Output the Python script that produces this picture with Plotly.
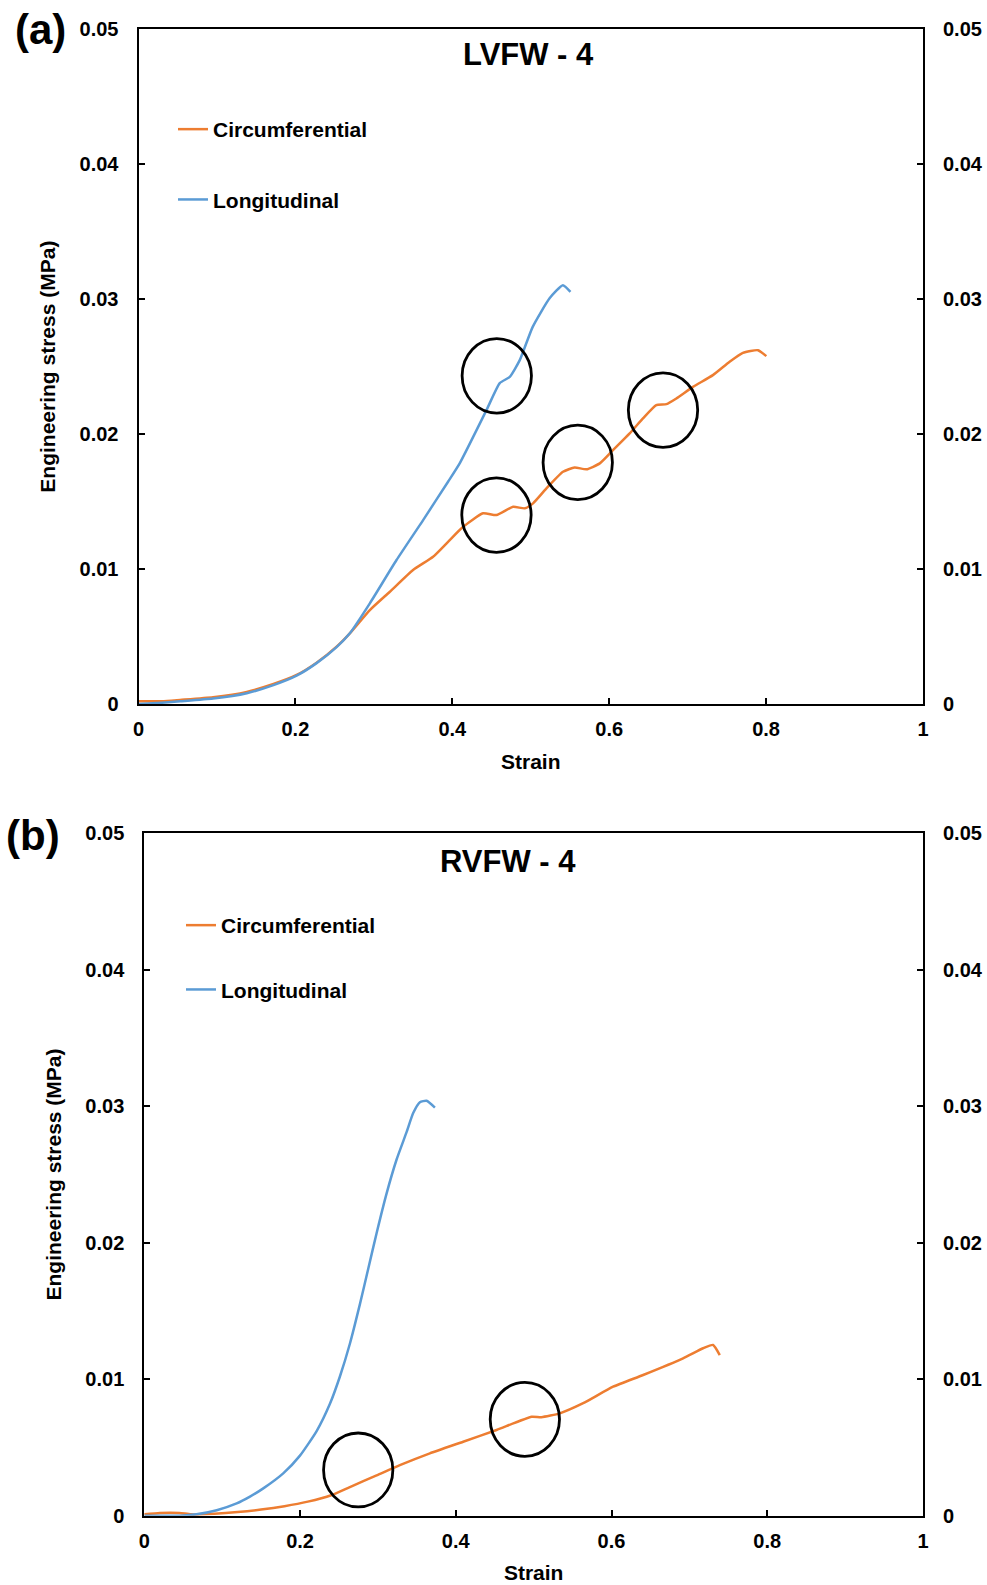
import plotly.graph_objects as go

# ---------------- data ----------------
# Panel (a) LVFW - 4
a_circ_strain = [0, 0.03, 0.053, 0.095, 0.138, 0.172, 0.2015, 0.227, 0.2525, 0.2694, 0.2949, 0.3204, 0.35,
                 0.3755, 0.3946, 0.4138, 0.4392, 0.4563, 0.4775, 0.4924, 0.5029, 0.52, 0.5411, 0.556, 0.571,
                 0.588, 0.6048, 0.6261, 0.643, 0.660, 0.673, 0.6856, 0.7068, 0.7322, 0.7535, 0.7704, 0.7896, 0.8003]
a_circ_stress = [0.0002, 0.0002, 0.0003, 0.0005, 0.0009, 0.00148, 0.00215, 0.00306, 0.00425, 0.00524, 0.00696,
                 0.00832, 0.00993, 0.01091, 0.01202, 0.01313, 0.01413, 0.0140, 0.01461, 0.0145, 0.01487, 0.01598,
                 0.01721, 0.01753, 0.01739, 0.01783, 0.01881, 0.02005, 0.02116, 0.02215, 0.02222, 0.02264, 0.0235,
                 0.02437, 0.02536, 0.02602, 0.02622, 0.02578]
a_long_strain = [0, 0.03, 0.053, 0.095, 0.138, 0.172, 0.2015, 0.227, 0.2525, 0.2694, 0.2949, 0.3289, 0.3628,
                 0.3946, 0.4096, 0.4436, 0.4605, 0.4732, 0.486, 0.5025, 0.524, 0.541, 0.5506]
a_long_stress = [0, 0.0001, 0.0002, 0.0004, 0.0008, 0.0014, 0.0021, 0.00303, 0.00422, 0.00524, 0.00746, 0.01067,
                 0.01363, 0.01647, 0.01785, 0.02178, 0.02378, 0.02424, 0.02548, 0.02795, 0.03007, 0.03104, 0.03054]

# Panel (b) RVFW - 4
b_circ_strain = [0, 0.02, 0.045, 0.06, 0.09, 0.12, 0.15, 0.18, 0.21, 0.24, 0.264, 0.2983, 0.3282,
                 0.3667, 0.4095, 0.4524, 0.4973, 0.51, 0.5336, 0.5636, 0.602, 0.6406, 0.6919, 0.7176, 0.7304, 0.7390]
b_circ_stress = [0.0001, 0.0002, 0.0002, 0.0001, 0.00015, 0.00027, 0.00045, 0.0007, 0.00103, 0.0015, 0.0021,
                 0.00295, 0.0037, 0.00457, 0.00542, 0.00628, 0.00725, 0.00722, 0.0075, 0.00824, 0.00945,
                 0.01031, 0.01153, 0.01227, 0.01251, 0.01177]
b_long_strain = [0, 0.046, 0.067, 0.093, 0.1186, 0.1357, 0.1528, 0.1784, 0.1999, 0.2213, 0.2384, 0.2512, 0.264,
                 0.2769, 0.2876, 0.2983, 0.3111, 0.324, 0.3368, 0.3453, 0.3539, 0.3625, 0.3732]
b_long_stress = [0, 0, 0.0001, 0.0004, 0.0009, 0.0014, 0.0020, 0.0031, 0.0044, 0.0062, 0.0082, 0.0102, 0.0126,
                 0.0155, 0.0181, 0.0207, 0.0236, 0.0261, 0.0281, 0.0295, 0.0303, 0.0304, 0.0299]

# highlighted regions (circles): centres in data units and radii
a_circle_x = [0.4567, 0.4563, 0.5599, 0.6686]
a_circle_y = [0.02432, 0.0140, 0.01790, 0.02178]
a_circle_rx, a_circle_ry = 0.0442, 0.00276
b_circle_x = [0.2747, 0.4887]
b_circle_y = [0.00335, 0.00706]
b_circle_rx, b_circle_ry = 0.0445, 0.00271

x_ticks = [0, 0.2, 0.4, 0.6, 0.8, 1]
x_ticklabels = ["0", "0.2", "0.4", "0.6", "0.8", "1"]
y_ticks = [0, 0.01, 0.02, 0.03, 0.04, 0.05]
y_ticklabels = ["0", "0.01", "0.02", "0.03", "0.04", "0.05"]

series_names = ["Circumferential", "Longitudinal"]
panel_titles = ["LVFW - 4", "RVFW - 4"]
panel_labels = ["(a)", "(b)"]
x_title = "Strain"
y_title = "Engineering stress (MPa)"

# ---------------- styling ----------------
W, H = 987, 1585
ORANGE = "#ED7D31"
BLUE = "#5B9BD5"
FONT = "Liberation Sans, Arial, sans-serif"


def px_x(p):
    return p / W


def px_y(p):
    return 1 - p / H


fig = go.Figure()

line_a = dict(width=2.5, shape="spline", smoothing=0.5)
fig.add_trace(go.Scatter(x=a_circ_strain, y=a_circ_stress, name=series_names[0], mode="lines",
                         line=dict(color=ORANGE, **line_a),
                         xaxis="x", yaxis="y", legend="legend", legendgroup="ac"))
fig.add_trace(go.Scatter(x=a_long_strain, y=a_long_stress, name=series_names[1], mode="lines",
                         line=dict(color=BLUE, **line_a),
                         xaxis="x", yaxis="y", legend="legend", legendgroup="al"))
fig.add_trace(go.Scatter(x=b_circ_strain, y=b_circ_stress, name=series_names[0], mode="lines",
                         line=dict(color=ORANGE, **line_a),
                         xaxis="x2", yaxis="y2", legend="legend2", legendgroup="bc"))
fig.add_trace(go.Scatter(x=b_long_strain, y=b_long_stress, name=series_names[1], mode="lines",
                         line=dict(color=BLUE, **line_a),
                         xaxis="x2", yaxis="y2", legend="legend2", legendgroup="bl"))
# empty helper traces so the right-hand (secondary) axes are drawn
fig.add_trace(go.Scatter(x=[], y=[], xaxis="x", yaxis="y3", showlegend=False, hoverinfo="skip"))
fig.add_trace(go.Scatter(x=[], y=[], xaxis="x2", yaxis="y4", showlegend=False, hoverinfo="skip"))

# circles
for cx, cy in zip(a_circle_x, a_circle_y):
    fig.add_shape(type="circle", xref="x", yref="y", x0=cx - a_circle_rx, x1=cx + a_circle_rx,
                  y0=cy - a_circle_ry, y1=cy + a_circle_ry, line=dict(color="black", width=2.8))
for cx, cy in zip(b_circle_x, b_circle_y):
    fig.add_shape(type="circle", xref="x2", yref="y2", x0=cx - b_circle_rx, x1=cx + b_circle_rx,
                  y0=cy - b_circle_ry, y1=cy + b_circle_ry, line=dict(color="black", width=2.8))

tickfont = dict(family=FONT, size=20, color="black", weight="bold")
titlefont = dict(family=FONT, size=21, color="black", weight="bold")

common_x = dict(range=[0, 1], tickvals=x_ticks, ticktext=x_ticklabels, showline=True, linecolor="black",
                linewidth=2, mirror=True, ticks="inside", ticklen=6, tickwidth=1.5, tickcolor="black",
                showgrid=False, zeroline=False, tickfont=tickfont, ticklabelstandoff=6, automargin=False,
                title=dict(text=x_title, font=titlefont, standoff=15))
common_y = dict(range=[0, 0.05], tickvals=y_ticks, ticktext=y_ticklabels, showline=True, linecolor="black",
                linewidth=2, ticks="inside", ticklen=6, tickwidth=1.5, tickcolor="black", showgrid=False,
                zeroline=False, tickfont=tickfont, ticklabelstandoff=14, automargin=False)

a_dom_x = [px_x(138.5), px_x(923)]
a_dom_y = [px_y(704), px_y(29.3)]
b_dom_x = [px_x(144.3), px_x(923)]
b_dom_y = [px_y(1515.7), px_y(833.3)]

legend_font = dict(family=FONT, size=21, color="black", weight="bold")

fig.update_layout(
    template="none",
    width=W, height=H,
    margin=dict(l=0, r=0, t=0, b=0, pad=0),
    paper_bgcolor="white", plot_bgcolor="white",
    font=dict(family=FONT, color="black", weight="bold"),
    showlegend=True,
    xaxis=dict(domain=a_dom_x, anchor="y", **common_x),
    yaxis=dict(domain=a_dom_y, anchor="x", title=dict(text=y_title, font=titlefont, standoff=18), **common_y),
    yaxis3=dict(overlaying="y", side="right", anchor="x", **common_y),
    xaxis2=dict(domain=b_dom_x, anchor="y2", **common_x),
    yaxis2=dict(domain=b_dom_y, anchor="x2", title=dict(text=y_title, font=titlefont, standoff=18), **common_y),
    yaxis4=dict(overlaying="y2", side="right", anchor="x2", **common_y),
    legend=dict(x=px_x(173), y=px_y(109), xanchor="left", yanchor="top", bgcolor="rgba(0,0,0,0)",
                borderwidth=0, font=legend_font, traceorder="grouped", tracegroupgap=40),
    legend2=dict(x=px_x(181), y=px_y(905), xanchor="left", yanchor="top", bgcolor="rgba(0,0,0,0)",
                 borderwidth=0, font=legend_font, traceorder="grouped", tracegroupgap=34),
)

# panel titles and labels
ann_common = dict(xref="paper", yref="paper", showarrow=False, xanchor="center", yanchor="middle")
fig.add_annotation(x=px_x(528), y=px_y(54.6), text=panel_titles[0],
                   font=dict(family=FONT, size=31, color="black", weight="bold"), **ann_common)
fig.add_annotation(x=px_x(507.6), y=px_y(861), text=panel_titles[1],
                   font=dict(family=FONT, size=31, color="black", weight="bold"), **ann_common)
fig.add_annotation(x=px_x(40.5), y=px_y(30), text=panel_labels[0],
                   font=dict(family=FONT, size=42, color="black", weight="bold"), **ann_common)
fig.add_annotation(x=px_x(33.4), y=px_y(835), text=panel_labels[1],
                   font=dict(family=FONT, size=42, color="black", weight="bold"), **ann_common)

fig.write_html("out.html")
